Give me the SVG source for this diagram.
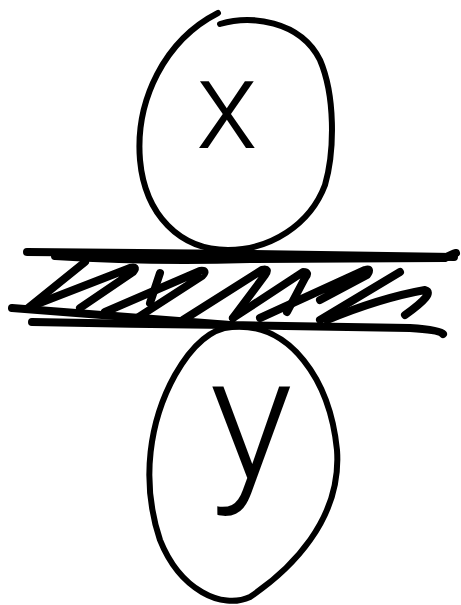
<svg xmlns="http://www.w3.org/2000/svg" width="461" height="605" viewBox="0 0 461 605">
<style>
.s{fill:none;stroke:#000;stroke-linecap:round;stroke-linejoin:round}
.o{stroke-width:6}
.b{stroke-width:8}
.h{stroke-width:8}
.t{font-family:Roboto,"Liberation Sans",sans-serif;font-weight:300;fill:#000}
</style>
<rect width="461" height="605" fill="#fff"/>
<g id="sheet">
<path class="s b" d="M27,252 L250,254 L454,257"/>
<path class="s b" d="M55,256 Q150,262 250,259 L445,258 Q452,254 456,253"/>
<path class="s b" d="M12,308 Q120,316 230,325 L410,328 Q440,330 443,334"/>
<path class="s b" d="M32,322 Q130,324 230,325"/>
<path class="s h" d="M28,308 L85,262"/>
<path class="s h" d="M32,306 L130,268 Q138,266 133,272 L80,308"/>
<path class="s h" d="M105,312 L200,271 Q208,270 202,276 L137,318"/>
<path class="s h" d="M150,303 L160,273"/>
<path class="s h" d="M183,320 L262,270 Q270,268 265,275 L233,318"/>
<path class="s h" d="M233,318 L303,272 Q310,272 305,278 L287,312"/>
<path class="s h" d="M260,318 L365,270 Q372,268 367,275 L320,300"/>
<path class="s h" d="M320,320 L400,272"/>
<path class="s h" d="M327,320 Q380,298 425,290 Q436,293 405,315"/>
</g>
<g id="roller-x">
<path class="s o" d="M220,24 C250,15 300,20 320,60 C335,95 335,150 325,185 C310,225 270,250 228,250 C180,250 145,215 140,160 C135,100 165,40 218,13"/>
<text class="t" x="227" y="148" font-size="127" text-anchor="middle">x</text>
</g>
<g id="roller-y">
<path class="s o" d="M232,327 C290,322 330,380 337,450 C342,520 290,570 250,597 C222,610 180,590 160,540 C140,480 150,420 175,375 C195,340 215,328 232,327 Z"/>
<text class="t" x="251" y="479" font-size="175" text-anchor="middle">y</text>
</g>
</svg>
